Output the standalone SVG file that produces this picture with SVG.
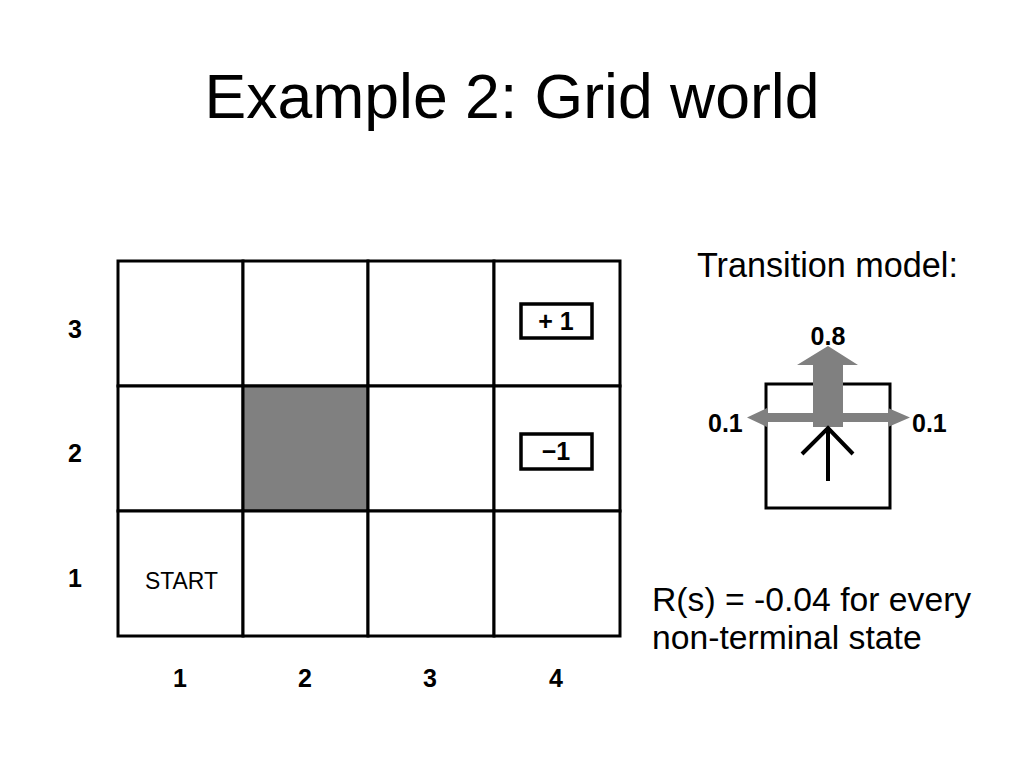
<svg xmlns="http://www.w3.org/2000/svg" width="1024" height="768" viewBox="0 0 1024 768">
<style>
.t{font-family:"Liberation Sans",Arial,sans-serif;fill:#000}
.b{font-weight:bold;font-size:25px}
.cell{fill:#fff;stroke:#000;stroke-width:3}
</style>
<rect width="1024" height="768" fill="#fff"/>
<text class="t" x="512" y="118" font-size="62.5" text-anchor="middle">Example 2: Grid world</text>
<g id="grid">
<rect class="cell" x="118" y="261" width="125" height="125"/>
<rect class="cell" x="243" y="261" width="125" height="125"/>
<rect class="cell" x="368" y="261" width="126" height="125"/>
<rect class="cell" x="494" y="261" width="126" height="125"/>
<rect class="cell" x="118" y="386" width="125" height="125"/>
<rect class="cell" x="243" y="386" width="125" height="125" style="fill:#808080"/>
<rect class="cell" x="368" y="386" width="126" height="125"/>
<rect class="cell" x="494" y="386" width="126" height="125"/>
<rect class="cell" x="118" y="511" width="125" height="125"/>
<rect class="cell" x="243" y="511" width="125" height="125"/>
<rect class="cell" x="368" y="511" width="126" height="125"/>
<rect class="cell" x="494" y="511" width="126" height="125"/>
</g>
<g id="plus1">
<rect x="521" y="304" width="71" height="34" fill="#fff" stroke="#000" stroke-width="3.5"/>
<text class="t b" x="556" y="330" text-anchor="middle">+ 1</text>
</g>
<g id="minus1">
<rect x="521" y="434" width="71" height="35" fill="#fff" stroke="#000" stroke-width="3.5"/>
<text class="t b" x="556" y="460" text-anchor="middle">−1</text>
</g>
<text class="t" x="145" y="589" font-size="23.5" fill="#222" textLength="73" lengthAdjust="spacingAndGlyphs">START</text>
<g id="axislabels">
<text class="t b" x="75" y="338" text-anchor="middle">3</text>
<text class="t b" x="75" y="462" text-anchor="middle">2</text>
<text class="t b" x="75" y="587" text-anchor="middle">1</text>
<text class="t b" x="180" y="687" text-anchor="middle">1</text>
<text class="t b" x="305" y="687" text-anchor="middle">2</text>
<text class="t b" x="430" y="687" text-anchor="middle">3</text>
<text class="t b" x="556" y="687" text-anchor="middle">4</text>
</g>
<text class="t" x="697" y="277" font-size="34.2">Transition model:</text>
<g id="transition">
<rect x="766" y="384" width="124" height="124" fill="#fff" stroke="#000" stroke-width="3"/>
<polygon points="767,413 888,413 888,408 910,417.5 888,427 888,422 767,422 767,427 747,417.5 767,408" fill="#808080"/>
<polygon points="813,427 843,427 843,365 858,365 828,346 797,365 813,365" fill="#808080"/>
<g fill="none" stroke="#000" stroke-width="4">
<line x1="828" y1="481" x2="828" y2="430"/>
<polyline points="802,454 828,428 853,454"/>
</g>
<text class="t b" x="828" y="345" text-anchor="middle">0.8</text>
<text class="t b" x="708" y="432">0.1</text>
<text class="t b" x="912" y="432">0.1</text>
</g>
<text class="t" x="652" y="611" font-size="33.7">R(s) = -0.04 for every</text>
<text class="t" x="652" y="649" font-size="33.7">non-terminal state</text>
</svg>
